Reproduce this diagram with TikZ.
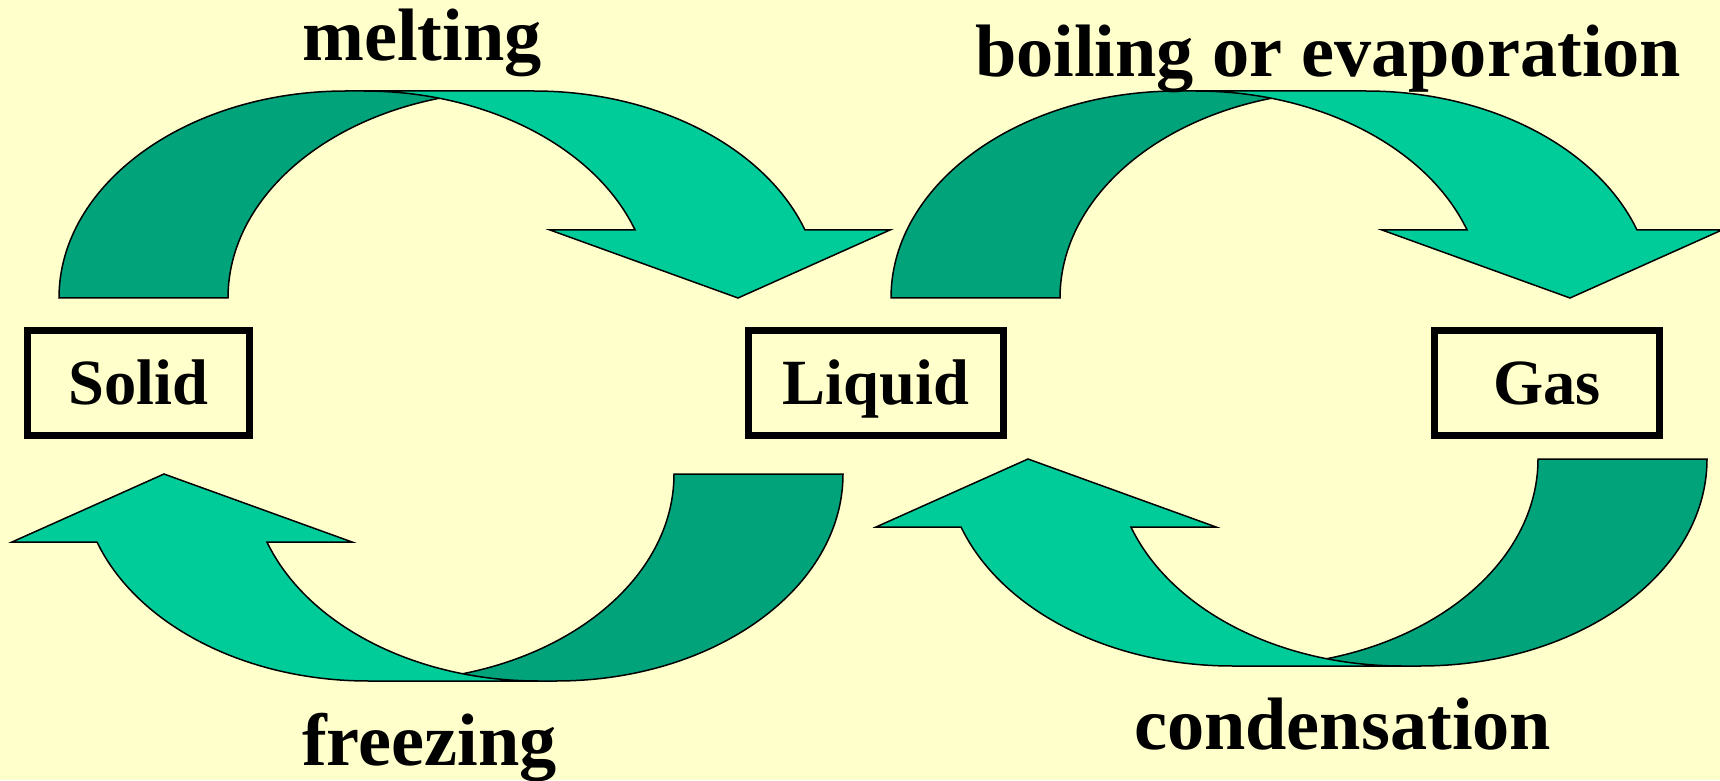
\documentclass[tikz,border=0pt]{standalone}
\usepackage{fontspec}
\setmainfont{Liberation Serif}
\usepackage{tikz}
\usetikzlibrary{positioning}
\definecolor{cream100}{HTML}{FFFFCC}
\definecolor{mint400}{HTML}{00CC99}
\definecolor{mint600}{HTML}{00A37A}
\tikzset{
  every node/.style={font=\bfseries},
  phase/.style={
    rectangle, draw=black, line width=7.5pt,
    minimum height=105pt, inner sep=0pt,
    text height=42pt, text depth=0pt,
    font=\bfseries\fontsize{64.5}{70}\selectfont
  },
  change/.style={
    anchor=base west, inner sep=0pt,
    font=\bfseries\fontsize{74.3}{80}\selectfont
  },
  band/.style={draw=black, line width=1.5pt},
  pics/bentarrow/.style={code={
    % back half of the band
    \filldraw[band, fill=mint600] (-392,88) arc[start angle=180, end angle=90, x radius=287, y radius=207]
      -- (64,295) arc[start angle=90, end angle=180, x radius=287, y radius=207] -- cycle;
    % front half with the head
    \filldraw[band, fill=mint400] (-87,295) arc[start angle=90, end angle=19.18, x radius=287, y radius=207]
      -- (99,156) -- (287,88) -- (439,156) -- (354,156)
      arc[start angle=19.18, end angle=90, x radius=287, y radius=207] -- cycle;
  }},
}

\begin{document}
\begin{tikzpicture}[x=1pt, y=1pt]
  \useasboundingbox[fill=cream100] (0,0) rectangle (1720,780);

  % the three states
  \node[phase, minimum width=222pt] (solid) at (138.5,397) {Solid};
  \node[phase, minimum width=255pt] (liquid) at (876,397) {Liquid};
  \node[phase, minimum width=225pt] (gas) at (1547,397) {Gas};

  % curved block arrows
  \pic at (451,394) {bentarrow};
  \pic at (1283,394) {bentarrow};
  \pic[rotate=180] at (451,394) {bentarrow};
  \pic[rotate=180] at (1315,409) {bentarrow};

  % labels
  \node[change] (melt) at (302,719) {melting};
  \node[change] (boil) at (975,703) {boiling or evaporation};
  \node[change] (freeze) at (302,15) {freezing};
  \node[change] (condense) at (1134,31) {condensation};
\end{tikzpicture}
\end{document}
